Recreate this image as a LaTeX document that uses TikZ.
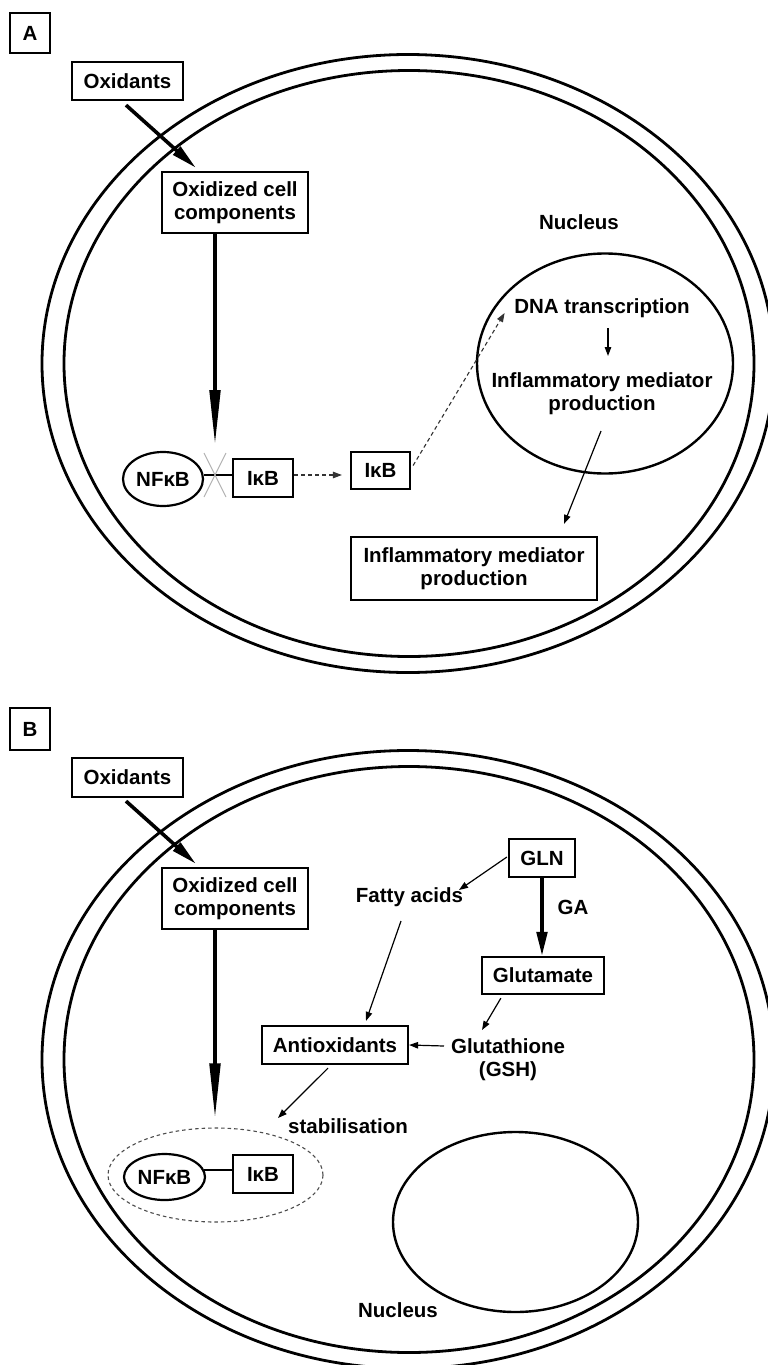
\documentclass[tikz,border=0pt]{standalone}
\usepackage{fontspec}
\setmainfont{Liberation Sans}
\usetikzlibrary{arrows.meta,shapes.geometric,calc}
\begin{document}
\begin{tikzpicture}[x=1pt,y=-1pt,
  every node/.style={font=\fontsize{20.5}{23}\selectfont\bfseries, inner sep=0pt, align=center},
  box/.style={draw, line width=2.2pt},
  membrane/.style={draw, ellipse, line width=2.8pt},
  nuc/.style={draw, ellipse, line width=2.4pt},
  oval/.style={draw, ellipse, line width=2.2pt},
  thickarrow/.style={line width=3.6pt, -{Triangle[length=#1,width=10.5pt]}},
  thinarrow/.style={line width=1.2pt, -{Triangle[length=9pt,width=6.5pt]}},
  dasharrow/.style={line width=1.1pt, draw=black!80, dash pattern=on 4pt off 3pt, -{Triangle[length=9pt,width=6.5pt]}},
]
\useasboundingbox (0,0) rectangle (768,1365);

% ================= Panel A =================
\node[membrane, minimum width=732pt, minimum height=618pt] (cellAo) at (408,363.5) {};
\node[membrane, minimum width=690pt, minimum height=586pt] (cellAi) at (409,363.5) {};
\node[nuc, minimum width=256pt, minimum height=220pt] (nucA) at (605,363.5) {};

\node[box, minimum width=40pt, minimum height=40pt] (labA) at (30,33) {A};
\node[box, minimum width=111pt, minimum height=38pt] (oxA) at (127.5,81) {Oxidants};
\node[box, minimum width=146pt, minimum height=61pt] (ocA) at (235,202.5) {Oxidized cell\\components};
\node (nucAlab) at (579,222) {Nucleus};
\node (dna) at (602,308) {DNA transcription};
\node (infl) at (602,394) {Inflammatory mediator\\production};
\node[oval, minimum width=80pt, minimum height=54pt] (nfA) at (163,479) {NFκB};
\node[box, minimum width=60pt, minimum height=38pt] (ikA1) at (263,478) {IκB};
\node[box, minimum width=59pt, minimum height=37pt] (ikA2) at (380.5,470.5) {IκB};
\node[box, minimum width=246pt, minimum height=63pt] (infA) at (474,568.5) {Inflammatory mediator\\production};
\coordinate (xA) at (215,475);

\draw[thickarrow=26pt] ($(oxA.south)+(-1.5,4)$) -- ($(ocA.north)+(-39,-3)$);
\draw[thickarrow=55pt] ($(ocA.south)+(-20,0)$) -- ($(xA)+(0,-30)$);
\draw[line width=2pt] (nfA.5) -- (nfA.5 -| ikA1.west);
\draw[gray!60, line width=1pt] ($(xA)+(-11,-22)$) -- ($(xA)+(11,22)$)
                                ($(xA)+(11,-22)$) -- ($(xA)+(-11,22)$);
\draw[dasharrow] ($(ikA1.east)+(0,-3)$) -- ($(ikA2.west)+(-8,4.5)$);
\draw[dasharrow] ($(ikA2.east)+(2,-5)$) -- ($(dna.west)+(-9.5,5)$);
\draw[thinarrow] ($(dna.center)+(6,20)$) -- ($(infl.center)+(6,-38)$);
\draw[thinarrow] ($(infl.center)+(-1,37)$) -- ($(infA.north)+(90,-12)$);

% ================= Panel B =================
\node[membrane, minimum width=732pt, minimum height=618pt] (cellBo) at (408,1059.5) {};
\node[membrane, minimum width=690pt, minimum height=586pt] (cellBi) at (409,1059.5) {};
\node[nuc, minimum width=245pt, minimum height=180pt] (nucB) at (515.5,1222) {};

\node[box, minimum width=40pt, minimum height=42pt] (labB) at (30,729) {B};
\node[box, minimum width=111pt, minimum height=39pt] (oxB) at (127.5,777.5) {Oxidants};
\node[box, minimum width=146pt, minimum height=61pt] (ocB) at (235,898.5) {Oxidized cell\\components};
\node (nucBlab) at (398,1310) {Nucleus};
\node[box, minimum width=66pt, minimum height=38pt] (gln) at (542,858) {GLN};
\node (fatty) at (409.5,897) {Fatty acids};
\node (ga) at (573,907) {GA};
\node[box, minimum width=122pt, minimum height=37pt] (glu) at (543,975.5) {Glutamate};
\node (gsh) at (508,1059.5) {Glutathione\\(GSH)};
\node[box, minimum width=146pt, minimum height=38pt] (antiox) at (335,1045) {Antioxidants};
\node (stab) at (348,1126) {stabilisation};
\node[draw=black!70, dash pattern=on 3.5pt off 3pt, line width=1.1pt, ellipse,
      minimum width=215pt, minimum height=94pt] (cplx) at (215.5,1175) {};
\node[oval, minimum width=81pt, minimum height=46pt] (nfB) at (164.5,1177) {NFκB};
\node[box, minimum width=60pt, minimum height=38pt] (ikB) at (263,1174) {IκB};

\draw[thickarrow=26pt] ($(oxB.south)+(-1.5,3)$) -- ($(ocB.north)+(-39,-3)$);
\draw[thickarrow=55pt] ($(ocB.south)+(-20,0)$) -- ($(cplx.north)+(-0.5,-9)$);
\draw[line width=2pt] (nfB.10) -- (nfB.10 -| ikB.west);
\draw[thinarrow] ($(gln.west)+(-1,-1)$) -- ($(fatty.center)+(49.5,-7)$);
\draw[thickarrow=24pt] (gln.south) -- (gln.south |- glu.north);
\draw[thinarrow] ($(glu.south west)+(20,3)$) -- ($(gsh.center)+(-26,-29.5)$);
\draw[thinarrow] ($(gsh.center)+(-64,-13.5)$) -- (antiox.east);
\draw[thinarrow] ($(fatty.center)+(-8.5,24)$) -- ($(antiox.north)+(31,-4)$);
\draw[thinarrow] ($(antiox.south)+(-7,3)$) -- ($(cplx.center)+(62.5,-57)$);
\end{tikzpicture}
\end{document}
